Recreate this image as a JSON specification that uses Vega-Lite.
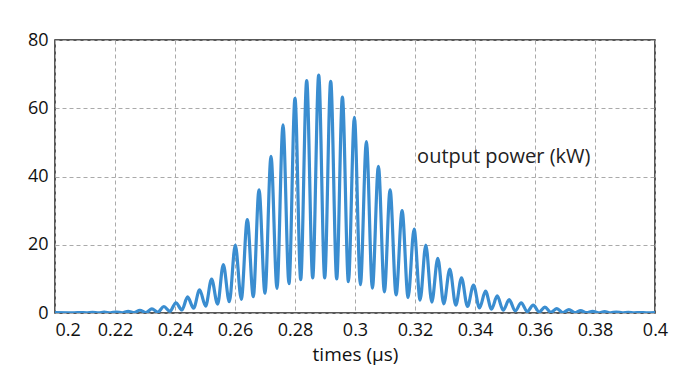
{
  "$schema": "https://vega.github.io/schema/vega-lite/v6.json",
  "width": 600,
  "height": 273,
  "autosize": {"type": "none"},
  "padding": {"left": 55, "top": 40, "right": 19, "bottom": 69},
  "background": "white",
  "config": {
    "font": "Open Sans",
    "view": {"stroke": "#222", "strokeWidth": 1.5},
    "axis": {
      "labelFont": "Open Sans",
      "titleFont": "Open Sans",
      "labelFontSize": 18,
      "titleFontSize": 19,
      "labelColor": "#111",
      "titleColor": "#111",
      "titleFontWeight": "normal",
      "domain": false,
      "ticks": false,
      "gridColor": "#aaaaaa",
      "gridDash": [4, 3],
      "gridWidth": 1
    }
  },
  "datasets": {
    "signal": [
      {"t": 0.2, "p": 0.1},
      {"t": 0.2045, "p": 0.08},
      {"t": 0.2065, "p": 0.05},
      {"t": 0.2085, "p": 0.15},
      {"t": 0.2105, "p": 0.05},
      {"t": 0.2125, "p": 0.2},
      {"t": 0.2145, "p": 0.05},
      {"t": 0.2164, "p": 0.25},
      {"t": 0.2185, "p": 0.05},
      {"t": 0.2204, "p": 0.3},
      {"t": 0.2224, "p": 0.05},
      {"t": 0.2244, "p": 0.5},
      {"t": 0.2264, "p": 0.1},
      {"t": 0.2283, "p": 0.8},
      {"t": 0.2303, "p": 0.15},
      {"t": 0.2323, "p": 1.2},
      {"t": 0.2343, "p": 0.3},
      {"t": 0.2363, "p": 1.9},
      {"t": 0.2383, "p": 0.5},
      {"t": 0.2403, "p": 3.0},
      {"t": 0.2423, "p": 0.9},
      {"t": 0.2442, "p": 4.7},
      {"t": 0.2462, "p": 1.4},
      {"t": 0.2482, "p": 6.8},
      {"t": 0.2502, "p": 2.0},
      {"t": 0.2522, "p": 9.9},
      {"t": 0.2542, "p": 2.6},
      {"t": 0.2561, "p": 14.2},
      {"t": 0.2581, "p": 3.3},
      {"t": 0.2601, "p": 19.9},
      {"t": 0.2621, "p": 4.0},
      {"t": 0.2641, "p": 27.4},
      {"t": 0.2661, "p": 4.8},
      {"t": 0.268, "p": 36.1},
      {"t": 0.27, "p": 5.8},
      {"t": 0.272, "p": 45.9},
      {"t": 0.274, "p": 7.2},
      {"t": 0.276, "p": 55.1},
      {"t": 0.278, "p": 8.6},
      {"t": 0.28, "p": 62.9},
      {"t": 0.2819, "p": 9.8},
      {"t": 0.2839, "p": 68.1},
      {"t": 0.2859, "p": 10.3},
      {"t": 0.2879, "p": 69.7},
      {"t": 0.2899, "p": 10.3},
      {"t": 0.2919, "p": 67.9},
      {"t": 0.2939, "p": 10.0},
      {"t": 0.2958, "p": 63.3},
      {"t": 0.2978, "p": 9.2},
      {"t": 0.2998, "p": 57.3},
      {"t": 0.3018, "p": 8.3},
      {"t": 0.3038, "p": 50.2},
      {"t": 0.3058, "p": 7.3},
      {"t": 0.3078, "p": 43.0},
      {"t": 0.3098, "p": 6.2},
      {"t": 0.3117, "p": 36.1},
      {"t": 0.3137, "p": 5.3},
      {"t": 0.3157, "p": 30.0},
      {"t": 0.3177, "p": 4.5},
      {"t": 0.3197, "p": 24.6},
      {"t": 0.3217, "p": 3.8},
      {"t": 0.3236, "p": 19.9},
      {"t": 0.3256, "p": 3.2},
      {"t": 0.3276, "p": 16.0},
      {"t": 0.3296, "p": 2.7},
      {"t": 0.3316, "p": 12.9},
      {"t": 0.3336, "p": 2.3},
      {"t": 0.3355, "p": 10.3},
      {"t": 0.3375, "p": 1.9},
      {"t": 0.3395, "p": 8.2},
      {"t": 0.3415, "p": 1.5},
      {"t": 0.3435, "p": 6.4},
      {"t": 0.3455, "p": 1.1},
      {"t": 0.3474, "p": 5.0},
      {"t": 0.3494, "p": 0.8},
      {"t": 0.3514, "p": 3.9},
      {"t": 0.3534, "p": 0.6},
      {"t": 0.3554, "p": 3.0},
      {"t": 0.3574, "p": 0.4},
      {"t": 0.3594, "p": 2.3},
      {"t": 0.3614, "p": 0.3},
      {"t": 0.3633, "p": 1.7},
      {"t": 0.3653, "p": 0.2},
      {"t": 0.3673, "p": 1.3},
      {"t": 0.3693, "p": 0.1},
      {"t": 0.3713, "p": 1.0},
      {"t": 0.3733, "p": 0.1},
      {"t": 0.3752, "p": 0.7},
      {"t": 0.3772, "p": 0.1},
      {"t": 0.3792, "p": 0.5},
      {"t": 0.3812, "p": 0.05},
      {"t": 0.3832, "p": 0.4},
      {"t": 0.3852, "p": 0.05},
      {"t": 0.3871, "p": 0.3},
      {"t": 0.3891, "p": 0.05},
      {"t": 0.3911, "p": 0.2},
      {"t": 0.3931, "p": 0.05},
      {"t": 0.3951, "p": 0.15},
      {"t": 0.3971, "p": 0.05},
      {"t": 0.4, "p": 0.1}
    ],
    "note": [{"t": 0.3207, "p": 45.7, "label": "output power (kW)"}]
  },
  "layer": [
    {
      "data": {"name": "signal"},
      "mark": {"type": "line", "color": "#3a8dd0", "strokeWidth": 3.2, "interpolate": "monotone", "clip": true},
      "encoding": {
        "x": {
          "field": "t", "type": "quantitative",
          "scale": {"domain": [0.2, 0.4], "nice": false, "zero": false},
          "axis": {"values": [0.2, 0.22, 0.24, 0.26, 0.28, 0.3, 0.32, 0.34, 0.36, 0.38, 0.4], "format": "~g", "title": "times (µs)", "labelPadding": 8, "titlePadding": 6, "labelFlush": false, "labelAlign": {"expr": "datum.value == 0.2 ? 'left' : 'center'"}}
        },
        "y": {
          "field": "p", "type": "quantitative",
          "scale": {"domain": [0, 80], "nice": false},
          "axis": {"values": [0, 20, 40, 60, 80], "title": null, "labelPadding": 7}
        }
      }
    },
    {
      "data": {"name": "note"},
      "mark": {"type": "text", "align": "left", "baseline": "middle", "fontSize": 20, "font": "Open Sans", "color": "#222"},
      "encoding": {
        "x": {"field": "t", "type": "quantitative"},
        "y": {"field": "p", "type": "quantitative"},
        "text": {"field": "label"}
      }
    }
  ]
}
